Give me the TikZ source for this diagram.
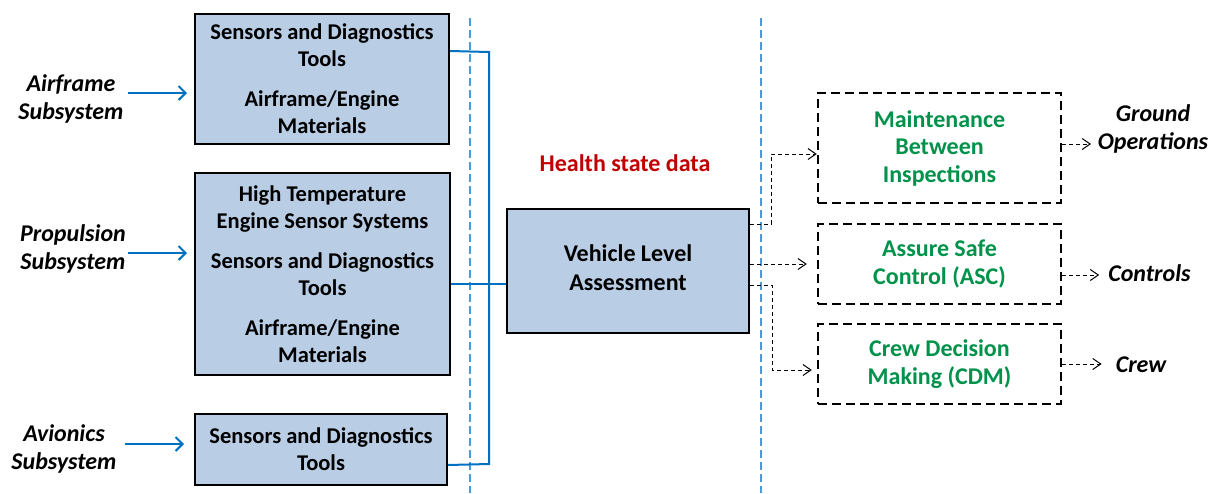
\documentclass[tikz,border=0pt]{standalone}
\usepackage{fontspec}
\setmainfont{Carlito}
\usetikzlibrary{arrows.meta,calc}
\definecolor{boxfill}{HTML}{B9CDE5}
\definecolor{busblue}{HTML}{0070C0}
\definecolor{sepblue}{HTML}{4A9BD8}
\definecolor{hred}{HTML}{C00000}
\definecolor{tgreen}{HTML}{00924A}
\tikzset{
  solidbox/.style={draw=black, line width=2pt, fill=boxfill, inner sep=0pt, align=center,
    font=\fontsize{22.5}{27}\selectfont\bfseries},
  dashbox/.style={draw=black, line width=2.4pt, dash pattern=on 9pt off 5pt, inner sep=0pt,
    align=center, text=tgreen, font=\fontsize{24}{27.5}\selectfont\bfseries,
    minimum width=243pt},
  inlabel/.style={align=center, inner sep=0pt, font=\fontsize{24}{27.5}\selectfont\bfseries\itshape},
  outlabel/.style={align=center, inner sep=0pt, font=\fontsize{24}{28}\selectfont\bfseries\itshape},
  bus/.style={draw=busblue, line width=2pt},
  inarrow/.style={draw=busblue, line width=2pt, -{Straight Barb[length=7pt,width=14pt,line width=2pt]}},
  darrow/.style={draw=black, line width=1pt, dash pattern=on 4pt off 3pt,
    -{Straight Barb[length=8pt,width=11pt,line width=1pt]}},
  sepline/.style={draw=sepblue, line width=1.3pt, dash pattern=on 8pt off 4pt},
}
\begin{document}
\begin{tikzpicture}[x=1pt,y=-1pt]
\useasboundingbox (0,0) rectangle (1214,493);

% separators
\coordinate (s1t) at (470,18); \coordinate (s1b) at (470,493);
\coordinate (s2t) at (761,18); \coordinate (s2b) at (761,493);
\draw[sepline] (s1t) -- (s1b);
\draw[sepline] (s2t) -- (s2b);

% left boxes
\node[solidbox, minimum width=254pt, minimum height=130pt] (A) at (322,79)
  {Sensors and Diagnostics\\Tools\\[13pt]Airframe/Engine\\Materials};
\node[solidbox, minimum width=255pt, minimum height=202pt] (P) at (322.5,274)
  {High Temperature\\Engine Sensor Systems\\[13pt]Sensors and Diagnostics\\Tools\\[13pt]Airframe/Engine\\Materials};
\node[solidbox, minimum width=252pt, minimum height=71pt] (V) at (321,449.5)
  {Sensors and Diagnostics\\Tools};

% input labels
\node[inlabel] (AirL) at (71,99) {Airframe\\Subsystem};
\node[inlabel] (ProL) at (73,249) {Propulsion\\Subsystem};
\node[inlabel] (AviL) at (64,449) {Avionics\\Subsystem};
\draw[inarrow] (128,93) -- (187,93);
\draw[inarrow] (128,253) -- (187,253);
\draw[inarrow] (125,444) -- (184,444);

% vehicle box
\node[solidbox, minimum width=242pt, minimum height=124pt,
  label={[inner sep=0pt, yshift=3.5pt, align=center, font=\fontsize{24}{29}\selectfont\bfseries]center:Vehicle Level\\Assessment}]
  (VL) at (628,271) {};
\node[inner sep=0pt, text=hred, font=\fontsize{24}{28}\selectfont\bfseries] (HS) at (625,163) {Health state data};

% bus
\coordinate (busT) at (489,52);
\coordinate (busB) at (489,464);
\draw[bus] ([yshift=-38pt]A.north east) -- (busT) -- (busB) -- ([yshift=21pt]V.south east);
\draw[bus] ([yshift=-10pt]P.east) -- ([yshift=-10pt]P.east -| VL.west);

% right dashed boxes
\node[dashbox, minimum height=110pt] (M) at (939.5,148) {Maintenance\\Between\\Inspections};
\node[dashbox, minimum height=80pt] (ASC) at (939.5,264) {Assure Safe\\Control (ASC)};
\node[dashbox, minimum height=80pt] (CDM) at (939.5,364) {Crew Decision\\Making (CDM)};

% dashed connectors
\coordinate (k1) at (771,224);
\coordinate (k2) at (772,285);
\draw[darrow] ([yshift=47pt]VL.east) -- (k1) |- ([yshift=-6pt]M.west);
\draw[darrow, shorten >=10pt] ([yshift=7pt]VL.east) -- ([yshift=7pt]VL.east -| ASC.west);
\draw[darrow, shorten >=5pt] ([yshift=-14pt]VL.east) -- (k2) |- ([yshift=-6pt]CDM.west);

% outputs
\node[outlabel] (GO) at (1153,129) {Ground\\Operations};
\node[outlabel] (CT) at (1149.5,273) {Controls};
\node[outlabel] (CR) at (1141,365) {Crew};
\draw[darrow] ([yshift=4pt]M.east) -- (1091,144);
\draw[darrow, shorten >=9pt] ([yshift=-11pt]ASC.east) -- ([yshift=-11pt]ASC.east -| CT.west);
\draw[darrow, shorten >=14pt] (CDM.east) -- (CDM.east -| CR.west);
\end{tikzpicture}
\end{document}
